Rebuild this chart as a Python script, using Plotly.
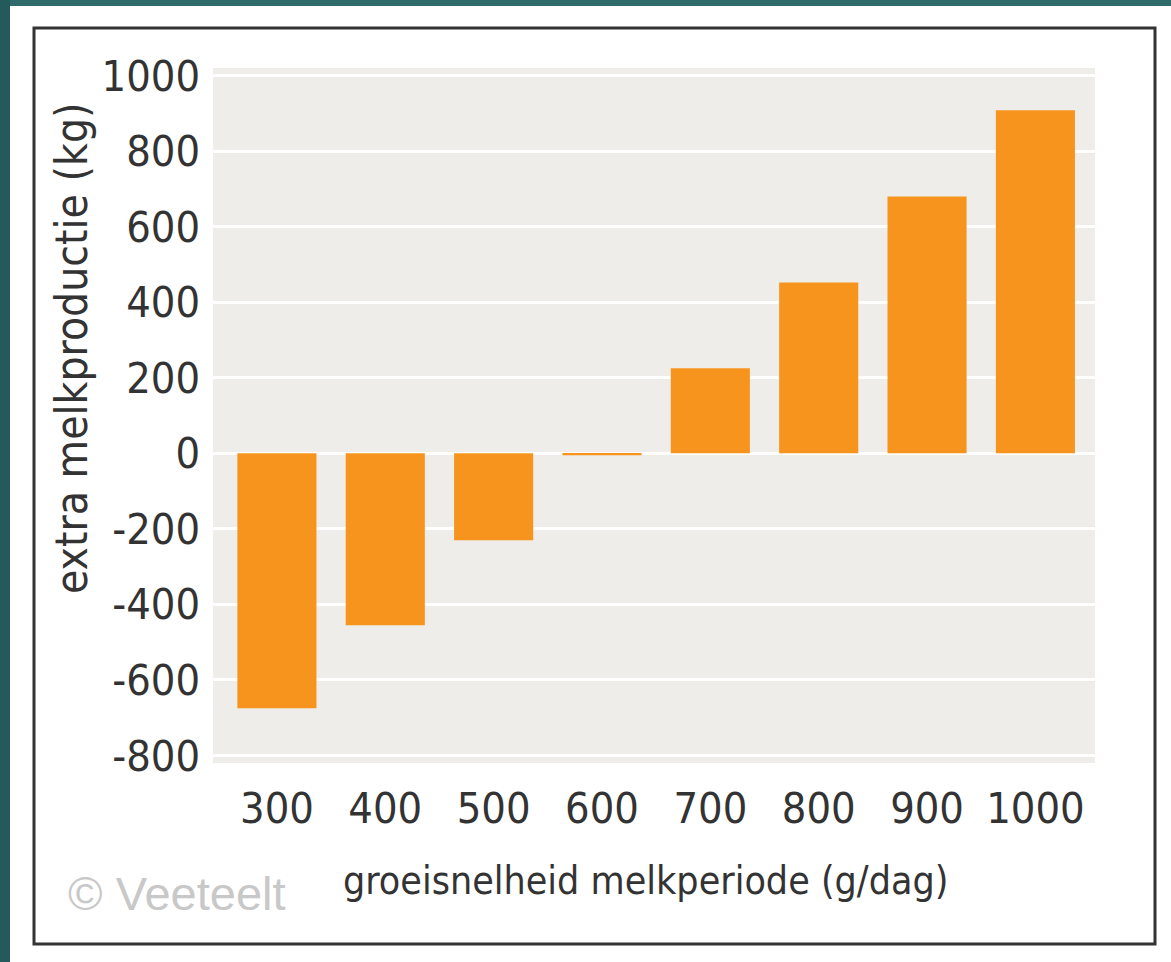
import plotly.graph_objects as go

categories = ["300", "400", "500", "600", "700", "800", "900", "1000"]
values = [-675, -455, -230, -5, 225, 452, 680, 908]
y_ticks = [-800, -600, -400, -200, 0, 200, 400, 600, 800, 1000]
y_ticktext = ["-800", "-600", "-400", "-200", "0", "200", "400", "600", "800", "1000"]

W, H = 1171, 962
ML, MR, MT, MB = 213, 76, 68, 199
PW, PH = W - ML - MR, H - MT - MB

def px(x):
    return (x - ML) / PW

def py(y):
    return 1 - (y - MT) / PH

fig = go.Figure()
fig.add_trace(go.Bar(
    x=list(range(len(categories))), y=values,
    marker=dict(color="#f7941d", line=dict(width=0)),
    width=0.73,
))

shapes = [
    dict(type="rect", xref="paper", yref="paper", x0=px(0), x1=px(W), y0=py(6), y1=py(0),
         fillcolor="#2f6b6b", line=dict(width=0), layer="below"),
    dict(type="rect", xref="paper", yref="paper", x0=px(0), x1=px(10), y0=py(H), y1=py(0),
         fillcolor="#245a5c", line=dict(width=0), layer="below"),
    dict(type="rect", xref="paper", yref="paper", x0=px(34), x1=px(1155), y0=py(944), y1=py(28),
         fillcolor="rgba(0,0,0,0)", line=dict(color="#333333", width=3), layer="below"),
]

font_narrow = "DejaVu Sans Condensed, DejaVu Sans, sans-serif"

annotations = [
    dict(text="extra melkproductie (kg)", xref="paper", yref="paper", x=px(72), y=py(348),
         textangle=-90, showarrow=False, font=dict(family=font_narrow, size=44, color="#333333"),
         xanchor="center", yanchor="middle"),
    dict(text="groeisnelheid melkperiode (g/dag)", xref="paper", yref="paper", x=px(645), y=py(880),
         showarrow=False, font=dict(family=font_narrow, size=39, color="#333333"),
         xanchor="center", yanchor="middle"),
    dict(text="© Veeteelt", xref="paper", yref="paper", x=px(66), y=py(893),
         showarrow=False, font=dict(family="Liberation Sans, Arial, sans-serif", size=47, color="#c8c8c8"),
         xanchor="left", yanchor="middle"),
]

fig.update_layout(
    width=W, height=H,
    margin=dict(l=ML, r=MR, t=MT, b=MB),
    paper_bgcolor="white",
    plot_bgcolor="#efedea",
    showlegend=False,
    shapes=shapes,
    annotations=annotations,
    xaxis=dict(
        tickvals=list(range(len(categories))), ticktext=categories,
        range=[-0.59, 7.55], showgrid=False, zeroline=False, showline=False,
        ticks="", ticklabelstandoff=16,
        tickfont=dict(family=font_narrow, size=43, color="#333333"),
    ),
    yaxis=dict(
        tickvals=y_ticks, ticktext=y_ticktext, range=[-820, 1020],
        showgrid=True, gridcolor="white", gridwidth=3, zeroline=False, showline=False,
        ticks="", ticklabelstandoff=12,
        tickfont=dict(family=font_narrow, size=43, color="#333333"),
    ),
)

post = """
document.body.style.margin = '0';
document.body.style.overflow = 'hidden';
document.querySelectorAll('text').forEach(function(t){
  var f = t.style.fontFamily || '';
  if (f.indexOf('DejaVu') >= 0) { t.style.fontStretch = 'condensed'; }
});
"""

fig.write_html("out.html", post_script=post, config={"displayModeBar": False})
